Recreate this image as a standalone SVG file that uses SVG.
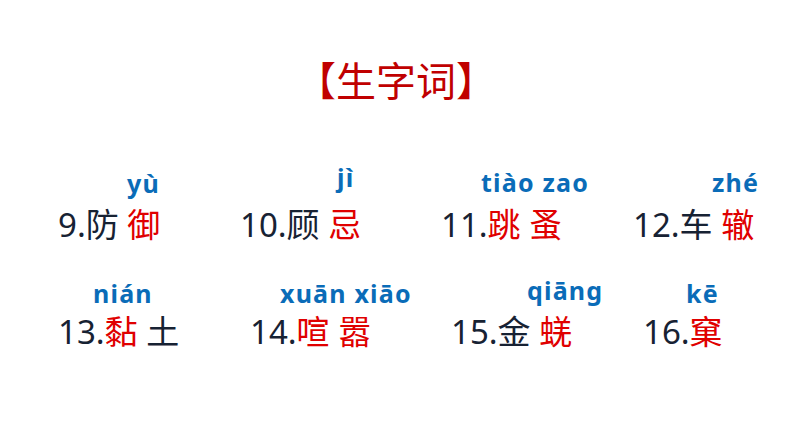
<svg xmlns="http://www.w3.org/2000/svg" width="794" height="447" viewBox="0 0 794 447">
<style>
.t{font-family:"Noto Sans CJK SC",sans-serif;font-size:40px;fill:#C00000}
.m{font-family:"Noto Sans","Noto Sans CJK SC",sans-serif;font-size:33px;fill:#172233}
.r{fill:#E00000}
.p{font-family:"Noto Sans","Liberation Sans",sans-serif;font-size:25px;font-weight:bold;fill:#0A6CB8;letter-spacing:1.2px}
</style>
<rect width="794" height="447" fill="#fff"/>
<text class="t" x="296" y="96">【生字词】</text>
<g id="w9"><text class="p" x="127" y="193">yù</text><text class="m" x="58" y="237">9.防 <tspan class="r">御</tspan></text></g>
<g id="w10"><text class="p" x="337" y="187">jì</text><text class="m" x="240" y="237">10.顾 <tspan class="r">忌</tspan></text></g>
<g id="w11"><text class="p" x="481" y="192">tiào zao</text><text class="m" x="441" y="237">11.<tspan class="r">跳 蚤</tspan></text></g>
<g id="w12"><text class="p" x="712" y="192">zhé</text><text class="m" x="633" y="237">12.车 <tspan class="r">辙</tspan></text></g>
<g id="w13"><text class="p" x="93" y="303">nián</text><text class="m" x="58" y="344">13.<tspan class="r">黏</tspan> 土</text></g>
<g id="w14"><text class="p" x="280" y="303">xuān xiāo</text><text class="m" x="250" y="344">14.<tspan class="r">喧 嚣</tspan></text></g>
<g id="w15"><text class="p" x="527" y="300">qiāng</text><text class="m" x="451" y="344">15.金 <tspan class="r">蜣</tspan></text></g>
<g id="w16"><text class="p" x="686" y="303">kē</text><text class="m" x="643" y="344">16.<tspan class="r">窠</tspan></text></g>
</svg>
